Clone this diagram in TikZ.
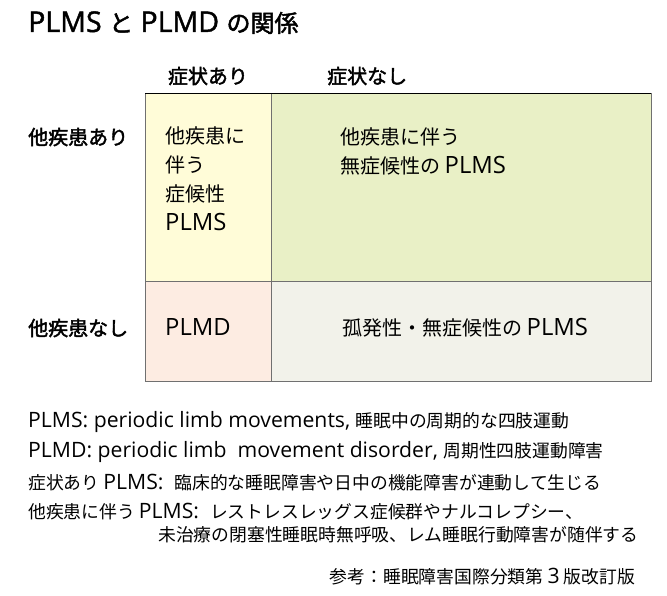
\documentclass[tikz,border=0pt]{standalone}
\usepackage{fontspec}
\setmainfont{Noto Sans CJK JP}
\newfontfamily\medfont[FakeBold=2]{Noto Sans CJK JP}
\newfontfamily\latinfont[Scale=1.19]{Open Sans}
\newfontfamily\latinmed[Scale=1.19, FakeBold=1.5]{Open Sans}
\newcommand{\eng}[1]{{\latinfont #1}}
\newcommand{\engm}[1]{{\latinmed #1}}
\definecolor{symcell}{HTML}{FFFCD8}
\definecolor{asymcell}{HTML}{E9F0C6}
\definecolor{plmdcell}{HTML}{FDECE2}
\definecolor{idiocell}{HTML}{F2F2EA}
\definecolor{gridgray}{HTML}{707070}
\tikzset{
	headtext/.style={font=\fontsize{20}{24}\selectfont\medfont, inner sep=0pt},
	celltext/.style={font=\fontsize{20}{29}\selectfont, inner sep=0pt, align=left},
	notetext/.style={font=\fontsize{17.8}{21}\selectfont, inner sep=0pt, anchor=base west}
}
\begin{document}
\begin{tikzpicture}[x=1pt, y=-1pt]
			\useasboundingbox (0,0) rectangle (667,596);
			\fill[symcell] (145,93) rectangle (271,281);
			\fill[asymcell] (271,93) rectangle (651,281);
			\fill[plmdcell] (145,281) rectangle (271,381);
			\fill[idiocell] (271,281) rectangle (651,381);
			\draw[gridgray] (145,93) rectangle (651,381);
			\draw[gridgray] (271,93) -- (271,381);
			\draw[gridgray] (145,281) -- (651,281);
			\draw[black] (145,93) -- (651,93);
			\node[font=\fontsize{24}{28}\selectfont\medfont, inner sep=0pt, anchor=base west] (title) at (28,32) {\engm{PLMS }と\engm{ PLMD }の関係};
			\node[headtext, anchor=base] (symyes) at (208,83.6) {症状あり};
			\node[headtext, anchor=base west] (symno) at (327,83.6) {症状なし};
			\node[headtext, anchor=base west] (disyes) at (28,144.6) {他疾患あり};
			\node[headtext, anchor=base west] (disno) at (28,335.6) {他疾患なし};
			\node[celltext, anchor=base west] (symplms) at (165,230.6) {他疾患に\\伴う\\症候性\\\eng{PLMS}};
			\node[celltext, anchor=base west] (asymplms) at (340,173.6) {他疾患に伴う\\無症候性の \eng{PLMS}};
			\node[celltext, anchor=base west] (plmd) at (165,335.6) {\eng{PLMD}};
			\node[celltext, anchor=base west] (idioplms) at (342,335.6) {孤発性・無症候性の \eng{PLMS}};
			% notes
			\node[notetext] (noteplms) at (28,427.6) {\eng{PLMS: periodic limb movements, }睡眠中の周期的な四肢運動};
			\node[notetext] (noteplmd) at (28,457.6) {\eng{PLMD: periodic limb\ \ movement disorder, }周期性四肢運動障害};
			\node[notetext] (notesym) at (28,489.6) {症状あり \eng{PLMS:\ \ }臨床的な睡眠障害や日中の機能障害が連動して生じる};
			\node[notetext] (notedis) at (28,518.6) {他疾患に伴う \eng{PLMS:\ \ }レストレスレッグス症候群やナルコレプシー、};
			\node[notetext] (notedisb) at (158,541.6) {未治療の閉塞性睡眠時無呼吸、レム睡眠行動障害が随伴する};
			\node[notetext, anchor=base east] (source) at (635,583.6) {参考：睡眠障害国際分類第 \eng{3} 版改訂版};
		\end{tikzpicture}
\end{document}
